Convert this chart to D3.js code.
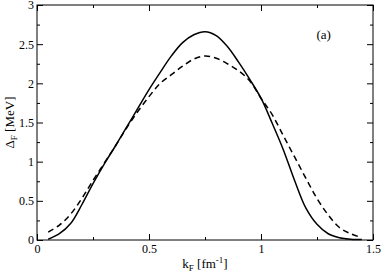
<!DOCTYPE html>
<html>
<head>
<meta charset="utf-8">
<script src="https://cdn.jsdelivr.net/npm/d3@7"></script>
<style>
  body { margin: 0; background: #fff; }
  svg { display: block; }
</style>
</head>
<body>
<svg id="chart" width="382" height="276"></svg>
<script>
// k_F [fm^-1] sample points
var kValues = [0.05, 0.10, 0.15, 0.20, 0.25, 0.30, 0.35, 0.40, 0.45, 0.50,
               0.55, 0.60, 0.65, 0.70, 0.75, 0.80, 0.85, 0.90, 0.95, 1.00,
               1.05, 1.10, 1.15, 1.20, 1.25, 1.30, 1.35, 1.40, 1.45];

// gap, solid curve
var gapSolid = [0.01, 0.08, 0.21, 0.45, 0.72, 0.97, 1.20, 1.44, 1.68, 1.92,
                2.14, 2.35, 2.52, 2.62, 2.66, 2.61, 2.47, 2.27, 2.05, 1.81,
                1.49, 1.15, 0.76, 0.41, 0.20, 0.08, 0.03, 0.01, 0.005];

// gap, dashed curve
var gapDashed = [0.10, 0.19, 0.33, 0.53, 0.76, 0.98, 1.20, 1.43, 1.64, 1.83,
                 2.00, 2.11, 2.22, 2.31, 2.35, 2.32, 2.25, 2.16, 2.03, 1.81,
                 1.60, 1.33, 1.06, 0.79, 0.53, 0.32, 0.16, 0.08, 0.03];

var xMajor = [0, 0.5, 1, 1.5];
var xMinor = [0.25, 0.75, 1.25];
var yMajor = [0, 0.5, 1, 1.5, 2, 2.5, 3];
var yMinor = [0.25, 0.75, 1.25, 1.75, 2.25, 2.75];

var serif = '"Liberation Serif", "DejaVu Serif", "Times New Roman", Times, serif';

var margin = {left: 37, top: 5, right: 9, bottom: 36};
var width = 382 - margin.left - margin.right,
    height = 276 - margin.top - margin.bottom;

var svg = d3.select("#chart");
var g = svg.append("g").attr("transform", "translate(" + margin.left + "," + margin.top + ")");

var x = d3.scaleLinear().domain([0, 1.5]).range([0, width]);
var y = d3.scaleLinear().domain([0, 3]).range([height, 0]);

var fmt = function(d) { return d3.format("~g")(d); };

function styleAxis(sel) {
    sel.attr("font-family", serif).attr("font-size", 12);
    sel.selectAll("line").attr("stroke", "#000").attr("stroke-width", 1);
    sel.select(".domain").remove();
    sel.selectAll("text").attr("fill", "#000");
}

// major + minor ticks, all pointing inward
g.append("g").attr("transform", "translate(0," + height + ")")
    .call(d3.axisBottom(x).tickValues(xMajor).tickFormat(fmt).tickSize(-6).tickSizeOuter(0).tickPadding(4))
    .call(styleAxis);
g.append("g").attr("transform", "translate(0," + height + ")")
    .call(d3.axisBottom(x).tickValues(xMinor).tickFormat("").tickSize(-3).tickSizeOuter(0))
    .call(styleAxis);
g.append("g")
    .call(d3.axisTop(x).tickValues(xMajor).tickFormat("").tickSize(-6).tickSizeOuter(0))
    .call(styleAxis);
g.append("g")
    .call(d3.axisTop(x).tickValues(xMinor).tickFormat("").tickSize(-3).tickSizeOuter(0))
    .call(styleAxis);

g.append("g")
    .call(d3.axisLeft(y).tickValues(yMajor).tickFormat(fmt).tickSize(-6).tickSizeOuter(0).tickPadding(3))
    .call(styleAxis);
g.append("g")
    .call(d3.axisLeft(y).tickValues(yMinor).tickFormat("").tickSize(-3).tickSizeOuter(0))
    .call(styleAxis);
g.append("g").attr("transform", "translate(" + width + ",0)")
    .call(d3.axisRight(y).tickValues(yMajor).tickFormat("").tickSize(-6).tickSizeOuter(0))
    .call(styleAxis);
g.append("g").attr("transform", "translate(" + width + ",0)")
    .call(d3.axisRight(y).tickValues(yMinor).tickFormat("").tickSize(-3).tickSizeOuter(0))
    .call(styleAxis);

// frame
g.append("rect")
    .attr("width", width).attr("height", height)
    .attr("fill", "none").attr("stroke", "#000").attr("stroke-width", 1);

var line = d3.line()
    .curve(d3.curveCatmullRom.alpha(0.5))
    .x(function(d) { return x(d[0]); })
    .y(function(d) { return y(d[1]); });

g.append("path")
    .datum(d3.zip(kValues, gapSolid))
    .attr("d", line)
    .attr("fill", "none").attr("stroke", "#000").attr("stroke-width", 1.5);

g.append("path")
    .datum(d3.zip(kValues, gapDashed))
    .attr("d", line)
    .attr("fill", "none").attr("stroke", "#000").attr("stroke-width", 1.5)
    .attr("stroke-dasharray", "6,4");

// axis titles
var xt = svg.append("text")
    .attr("x", margin.left + width / 2).attr("y", 268)
    .attr("text-anchor", "middle")
    .attr("font-family", serif).attr("font-size", 13);
xt.append("tspan").text("k");
xt.append("tspan").attr("dy", 3).attr("font-size", 9).text("F");
xt.append("tspan").attr("dy", -3).text(" [fm");
xt.append("tspan").attr("dy", -5).attr("font-size", 9).text("-1");
xt.append("tspan").attr("dy", 5).text("]");

var yt = svg.append("text")
    .attr("transform", "translate(14," + (margin.top + height / 2) + ") rotate(-90)")
    .attr("text-anchor", "middle")
    .attr("font-family", serif).attr("font-size", 13);
yt.append("tspan").text("\u0394");
yt.append("tspan").attr("dy", 3).attr("font-size", 9).text("F");
yt.append("tspan").attr("dy", -3).text(" [MeV]");

g.append("text")
    .attr("x", x(1.28)).attr("y", y(2.56))
    .attr("text-anchor", "middle")
    .attr("font-family", serif).attr("font-size", 13)
    .text("(a)");
</script>
</body>
</html>
